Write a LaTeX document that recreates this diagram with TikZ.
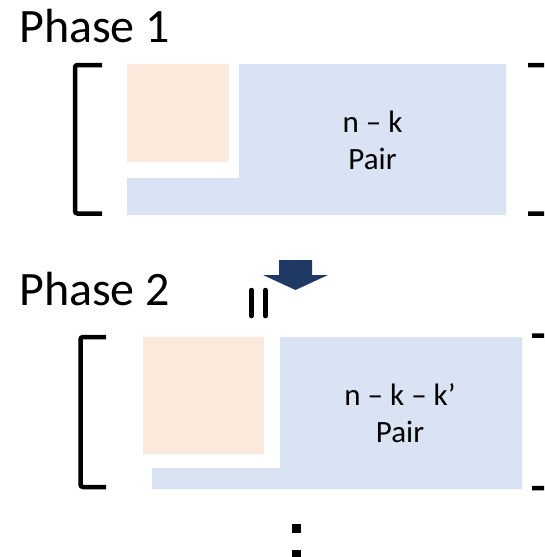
\documentclass[tikz,border=0pt]{standalone}
\usepackage{fontspec}
\setmainfont{Carlito}
\definecolor{pairblue}{HTML}{DAE3F3}
\definecolor{keptorange}{HTML}{FBE9DC}
\definecolor{stepnavy}{HTML}{203864}
\begin{document}
\begin{tikzpicture}[x=1pt,y=-1pt,
  bracket/.style={draw=black, line width=4.5pt, rounded corners=2.5pt},
  phaselabel/.style={anchor=base west, inner sep=0pt, font=\fontsize{48}{58}\selectfont},
  pairlabel/.style={anchor=base, align=center, inner sep=0pt, font=\fontsize{31}{37}\selectfont},
  blockfill/.style={fill=pairblue},
  keptfill/.style={fill=keptorange}]
\useasboundingbox (0,0) rectangle (544,557);
\clip (0,0) rectangle (544,557);

% ---- Phase 1 ----
\node[phaselabel] (phase1) at (19,42) {Phase 1};
\fill[keptfill] (127,64) rectangle (229,162);
\fill[blockfill] (239,64) -- (506,64) -- (506,215) -- (127,215) -- (127,178) -- (239,178) -- cycle;
% base anchor sits on the last line ("Pair")
\node[pairlabel] (pair1) at (372.5,169) {n – k\\Pair};
\draw[bracket] (102,65) -- (75,65) -- (75,213.5) -- (102,213.5);
\draw[bracket] (528,65) -- (549,65) -- (549,213.5) -- (528,213.5);

% ---- transition arrow and parallel mark ----
\fill[stepnavy] (279,260) -- (312,260) -- (312,275) -- (328,275) -- (295.5,290)
  -- (263,275) -- (279,275) -- cycle;
\draw[line width=4.5pt, line cap=round] (251.5,290) -- (251.5,316);
\draw[line width=4.5pt, line cap=round] (265.5,290) -- (265.5,316);

% ---- Phase 2 ----
\node[phaselabel] (phase2) at (19,305) {Phase 2};
\fill[keptfill] (143,337) rectangle (264,454);
\fill[blockfill] (280,337) -- (522,337) -- (522,489) -- (152,489) -- (152,468) -- (280,468) -- cycle;
\node[pairlabel] (pair2) at (400,442) {n – k – k’\\Pair};
\draw[bracket] (106,337) -- (80.5,337) -- (80.5,487) -- (106,487);
\draw[bracket] (532,335.5) -- (553,335.5) -- (553,488) -- (532,488);

% ---- continuation dots ----
\fill (292,524) rectangle (301,533);
\fill (292,550) rectangle (301,559);
\end{tikzpicture}
\end{document}
